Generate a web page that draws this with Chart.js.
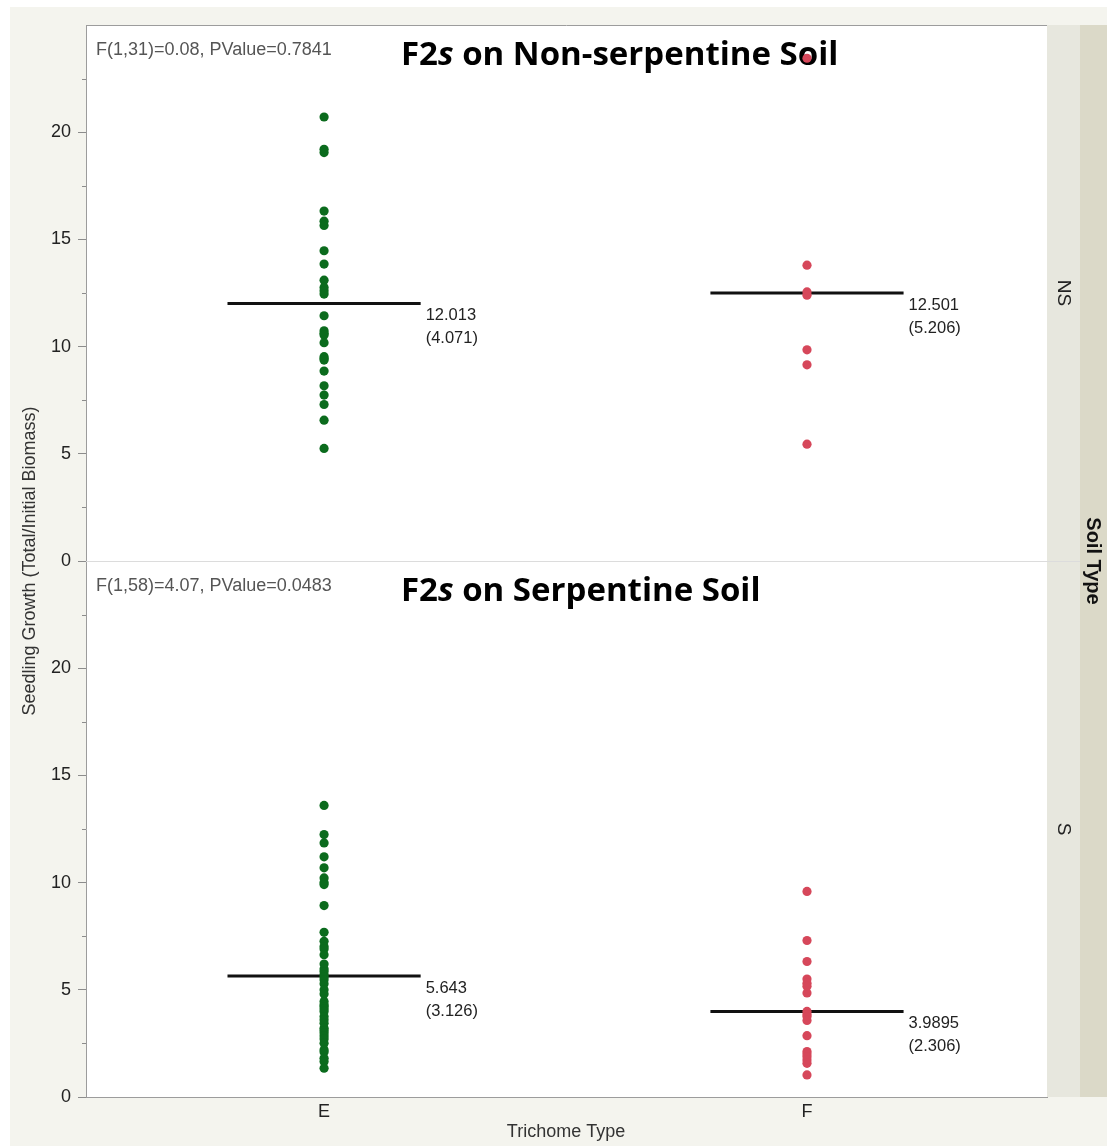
<!DOCTYPE html>
<html>
<head>
<meta charset="utf-8">
<script src="https://cdn.jsdelivr.net/npm/chart.js@4"></script>
<style>
  body { margin: 0; background: #fff; }
  #wrap { width: 1107px; height: 1146px; position: relative; }
</style>
</head>
<body>
<div id="wrap"><canvas id="chart"></canvas></div>
<script>
// categories and panels
const categories = ['E', 'F'];
const panels = ['NS', 'S'];
const panelTitles = [['F2', 's', ' on Non-serpentine Soil'], ['F2', 's', ' on Serpentine Soil']];
const panelStats = ['F(1,31)=0.08, PValue=0.7841', 'F(1,58)=4.07, PValue=0.0483'];

// seedling growth values
const nsE = [20.71, 19.2, 19.05, 16.32, 15.85, 15.65, 14.47, 13.85, 13.1, 12.76, 12.6, 12.45,
  11.44, 10.74, 10.62, 10.54, 10.18, 9.53, 9.45, 9.37, 8.86, 8.17, 7.74, 7.3, 6.57, 5.25];
const nsF = [23.45, 13.8, 12.55, 12.4, 9.85, 9.15, 5.45];
const sE = [13.6, 12.24, 11.85, 11.2, 10.69, 10.22, 10.0, 9.91, 8.93, 7.68, 7.26, 7.02, 6.9, 6.64,
  6.2, 5.97, 5.85, 5.7, 5.6, 5.47, 5.28, 5.0, 4.8, 4.45, 4.3, 4.22, 4.1, 3.99, 3.75, 3.6, 3.44,
  3.21, 3.1, 2.98, 2.85, 2.7, 2.51, 2.2, 2.1, 1.81, 1.65, 1.34];
const sF = [9.59, 7.3, 6.32, 5.5, 5.3, 5.16, 4.85, 3.99, 3.85, 3.75, 3.57, 2.86, 2.12, 2.0, 1.88,
  1.72, 1.57, 1.03];

// means and std devs
const nsMeans = [12.013, 12.501];
const nsSD = [4.071, 5.206];
const sMeans = [5.643, 3.9895];
const sSD = [3.126, 2.306];

const yMajorTicks = [0, 5, 10, 15, 20];

const pointSets = [[nsE, nsF], [sE, sF]];
const meanSets = [nsMeans, sMeans];
const sdSets = [nsSD, sSD];
const axisIds = ['yNS', 'yS'];
const colors = ['#0b6b1d', '#d6475a'];
const sans = '"Liberation Sans", Arial, sans-serif';

const datasets = [];
panels.forEach((p, pi) => {
    categories.forEach((c, ci) => {
        datasets.push({
            data: pointSets[pi][ci].map(v => ({ x: ci, y: v })),
            yAxisID: axisIds[pi],
            backgroundColor: colors[ci],
            pointRadius: 4.6,
            pointHoverRadius: 4.6,
            borderWidth: 0,
            order: 1
        });
        const m = meanSets[pi][ci];
        datasets.push({
            data: [{ x: ci - 0.2, y: m }, { x: ci + 0.2, y: m }],
            yAxisID: axisIds[pi],
            showLine: true,
            borderColor: '#111',
            borderWidth: 3,
            pointRadius: 0,
            order: 2
        });
    });
});

function yAxis() {
    return {
        type: 'linear',
        position: 'left',
        stack: 'soil',
        stackWeight: 1,
        min: 0,
        max: 25,
        ticks: {
            stepSize: 2.5,
            autoSkip: false,
            padding: 7,
            color: '#222',
            font: { family: sans, size: 18 },
            callback: v => yMajorTicks.includes(v) ? String(v) : ''
        },
        grid: {
            drawOnChartArea: false,
            tickLength: 8,
            tickColor: ctx => yMajorTicks.includes(ctx.tick.value) ? '#8c8c8c' : 'rgba(0,0,0,0)'
        },
        border: { color: '#9c9c9c' },
        afterFit: s => { s.width = 86; }
    };
}

const decor = {
    id: 'decor',
    beforeDraw(chart) {
        const { ctx, chartArea: a } = chart;
        ctx.save();
        ctx.fillStyle = '#fff';
        ctx.fillRect(0, 0, chart.width, chart.height);
        ctx.fillStyle = '#f4f4ee';
        ctx.fillRect(10, 7, chart.width - 10, chart.height - 7);
        ctx.fillStyle = '#fff';
        ctx.fillRect(a.left, a.top, a.right - a.left, a.bottom - a.top);
        // right strips
        ctx.fillStyle = '#e7e7de';
        ctx.fillRect(a.right, a.top, 33, a.bottom - a.top);
        ctx.fillStyle = '#dbd9c8';
        ctx.fillRect(a.right + 33, a.top, chart.width - a.right - 33, a.bottom - a.top);
        ctx.restore();
    },
    beforeDatasetsDraw(chart) {
        const { ctx, scales } = chart;
        ctx.save();
        panels.forEach((p, pi) => {
            const ys = scales[axisIds[pi]];
            // stats text
            ctx.fillStyle = '#555';
            ctx.font = '18px ' + sans;
            ctx.textAlign = 'left';
            ctx.textBaseline = 'alphabetic';
            ctx.fillText(panelStats[pi], 96, ys.top + 30);
            // title with italic s
            let tx = 401;
            const ty = ys.top + 40;
            ctx.fillStyle = '#000';
            panelTitles[pi].forEach((part, k) => {
                ctx.font = (k === 1 ? 'italic ' : '') + 'bold 33px "Open Sans", Lato, sans-serif';
                ctx.fillText(part, tx, ty);
                tx += ctx.measureText(part).width;
            });
        });
        ctx.restore();
    },
    afterDatasetsDraw(chart) {
        const { ctx, chartArea: a, scales } = chart;
        const xs = scales.x;
        ctx.save();
        // frame top + panel divider
        ctx.strokeStyle = '#9c9c9c';
        ctx.lineWidth = 1;
        ctx.beginPath();
        ctx.moveTo(a.left, a.top + 0.5);
        ctx.lineTo(a.right, a.top + 0.5);
        ctx.stroke();
        const mid = scales.yNS.bottom;
        ctx.strokeStyle = '#dcdcdc';
        ctx.beginPath();
        ctx.moveTo(a.left, mid + 0.5);
        ctx.lineTo(a.right + 33, mid + 0.5);
        ctx.stroke();

        panels.forEach((p, pi) => {
            const ys = scales[axisIds[pi]];
            // minor ticks
            ctx.strokeStyle = '#8c8c8c';
            ys.ticks.forEach(t => {
                if (yMajorTicks.includes(t.value) || t.value >= 25) return;
                const py = Math.round(ys.getPixelForValue(t.value)) + 0.5;
                ctx.beginPath();
                ctx.moveTo(a.left - 4, py);
                ctx.lineTo(a.left, py);
                ctx.stroke();
            });
            // mean labels
            ctx.fillStyle = '#222';
            ctx.font = '16.5px ' + sans;
            ctx.textAlign = 'left';
            ctx.textBaseline = 'middle';
            categories.forEach((c, ci) => {
                const lx = xs.getPixelForValue(ci + 0.2) + 5;
                const ly = ys.getPixelForValue(meanSets[pi][ci]);
                ctx.fillText(String(meanSets[pi][ci]), lx, ly + 12);
                ctx.fillText('(' + sdSets[pi][ci] + ')', lx, ly + 35);
            });
            // strip label
            ctx.save();
            ctx.translate(a.right + 16, (ys.top + ys.bottom) / 2);
            ctx.rotate(Math.PI / 2);
            ctx.textAlign = 'center';
            ctx.textBaseline = 'middle';
            ctx.fillStyle = '#222';
            ctx.font = '19px ' + sans;
            ctx.fillText(p, 0, 0);
            ctx.restore();
        });

        // soil type strip title
        ctx.save();
        ctx.translate(a.right + 46, (a.top + a.bottom) / 2);
        ctx.rotate(Math.PI / 2);
        ctx.textAlign = 'center';
        ctx.textBaseline = 'middle';
        ctx.fillStyle = '#111';
        ctx.font = 'bold 20px ' + sans;
        ctx.fillText('Soil Type', 0, 0);
        ctx.restore();

        // y axis title
        ctx.save();
        ctx.translate(30, (a.top + a.bottom) / 2);
        ctx.rotate(-Math.PI / 2);
        ctx.textAlign = 'center';
        ctx.textBaseline = 'middle';
        ctx.fillStyle = '#333';
        ctx.font = '18px ' + sans;
        ctx.fillText('Seedling Growth (Total/Initial Biomass)', 0, 0);
        ctx.restore();

        // x axis title
        ctx.textAlign = 'center';
        ctx.textBaseline = 'middle';
        ctx.fillStyle = '#333';
        ctx.font = '18px ' + sans;
        ctx.fillText('Trichome Type', 566, a.bottom + 35);
        ctx.restore();
    }
};

new Chart(document.getElementById('chart'), {
    type: 'scatter',
    data: { datasets: datasets },
    options: {
        responsive: true,
        maintainAspectRatio: false,
        animation: false,
        layout: { padding: { top: 25, right: 60, left: 0, bottom: 0 } },
        plugins: { legend: { display: false }, tooltip: { enabled: false } },
        scales: {
            x: {
                type: 'linear',
                min: -0.493,
                max: 1.497,
                afterBuildTicks: s => { s.ticks = categories.map((c, i) => ({ value: i })); },
                ticks: {
                    padding: -4,
                    color: '#222',
                    font: { family: sans, size: 18 },
                    callback: v => categories[v]
                },
                grid: { display: false },
                border: { color: '#9c9c9c' },
                afterFit: s => { s.height = 49; }
            },
            yS: yAxis(),
            yNS: yAxis()
        }
    },
    plugins: [decor]
});
</script>
</body>
</html>
